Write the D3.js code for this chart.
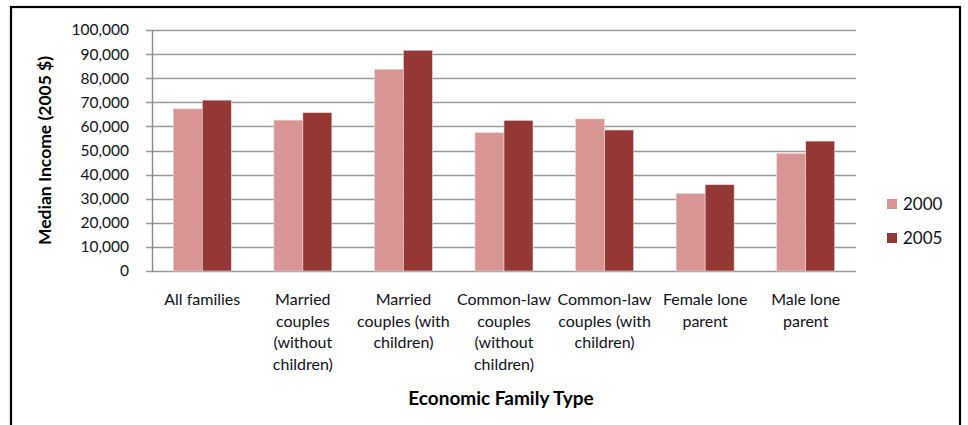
<!DOCTYPE html>
<html lang="en">

<head>
    <meta charset="utf-8">
    <title>Median Income by Economic Family Type</title>
    <style type="text/css">
        body {
            margin: 0;
            background: #fff;
        }

        text {
            font-family: 'Lato', 'Open Sans', sans-serif;
        }
    </style>
    <script type="text/javascript" src="https://cdn.jsdelivr.net/npm/d3@7"></script>
</head>

<body>
    <script type="text/javascript">
        var svgW = 968;
        var svgH = 425;

        /* DATA */

        var categories = ["All families", "Married couples (without children)", "Married couples (with children)",
            "Common-law couples (without children)", "Common-law couples (with children)",
            "Female lone parent", "Male lone parent"];
        var categoryLines = [
            ["All families"],
            ["Married", "couples", "(without", "children)"],
            ["Married", "couples (with", "children)"],
            ["Common-law", "couples", "(without", "children)"],
            ["Common-law", "couples (with", "children)"],
            ["Female lone", "parent"],
            ["Male lone", "parent"]
        ];
        var years = ["2000", "2005"];
        var values2000 = [67300, 62600, 83700, 57400, 63100, 32200, 48800];
        var values2005 = [70900, 65700, 91600, 62500, 58500, 35800, 53900];
        var yTicks = [0, 10000, 20000, 30000, 40000, 50000, 60000, 70000, 80000, 90000, 100000];

        var colors = { "2000": "#d99594", "2005": "#953735" };
        var series = { "2000": values2000, "2005": values2005 };

        var svg = d3.select("body").append("svg")
            .attr("width", svgW)
            .attr("height", svgH);

        // outer frame (bottom edge falls outside the picture)
        svg.append("rect")
            .attr("x", 11)
            .attr("y", 7)
            .attr("width", 949)
            .attr("height", 430)
            .attr("fill", "white")
            .attr("stroke", "black")
            .attr("stroke-width", 2.2);

        var plotL = 152, plotR = 856, plotT = 30, plotB = 271;

        var x = d3.scaleBand()
            .domain(categories)
            .range([plotL, plotR])
            .padding(0);

        var xInner = d3.scaleBand()
            .domain(years)
            .range([0, x.bandwidth()])
            .paddingInner(0)
            .paddingOuter(0.734);

        var y = d3.scaleLinear()
            .domain([0, 100000])
            .range([plotB, plotT]);

        /* GRID + Y AXIS */

        svg.append("g")
            .selectAll("line")
            .data(yTicks)
            .enter().append("line")
            .attr("x1", plotL - 6)
            .attr("x2", plotR)
            .attr("y1", function (d) { return Math.round(y(d)) + 0.5; })
            .attr("y2", function (d) { return Math.round(y(d)) + 0.5; })
            .attr("stroke", "#9a9a9a")
            .attr("stroke-width", 1.4);

        svg.append("line")
            .attr("x1", plotL + 0.5)
            .attr("x2", plotL + 0.5)
            .attr("y1", plotT)
            .attr("y2", plotB + 1)
            .attr("stroke", "#8a8a8a")
            .attr("stroke-width", 1.4);

        var fmt = d3.format(",");

        svg.append("g")
            .selectAll("text")
            .data(yTicks)
            .enter().append("text")
            .attr("x", plotL - 23)
            .attr("y", function (d) { return y(d); })
            .attr("dy", "0.35em")
            .attr("text-anchor", "end")
            .attr("font-size", 15.5)
            .attr("fill", "#111122")
            .text(function (d) { return fmt(d); });

        /* BARS */

        var groups = svg.append("g")
            .selectAll("g")
            .data(categories)
            .enter().append("g")
            .attr("transform", function (d) { return "translate(" + x(d) + ",0)"; });

        groups.selectAll("rect")
            .data(function (d, i) {
                return years.map(function (yr) { return { year: yr, value: series[yr][i] }; });
            })
            .enter().append("rect")
            .attr("x", function (d) { return xInner(d.year); })
            .attr("width", xInner.bandwidth())
            .attr("y", function (d) { return y(d.value); })
            .attr("height", function (d) { return plotB - y(d.value); })
            .attr("fill", function (d) { return colors[d.year]; })
            .attr("stroke", "#f0d8d8")
            .attr("stroke-width", 0.6);

        /* X LABELS */

        var xl = svg.append("g")
            .selectAll("text")
            .data(categories)
            .enter().append("text")
            .attr("text-anchor", "middle")
            .attr("font-size", 16)
            .attr("fill", "#111122")
            .attr("x", function (d) { return x(d) + x.bandwidth() / 2; })
            .attr("y", 305);

        xl.selectAll("tspan")
            .data(function (d, i) { return categoryLines[i]; })
            .enter().append("tspan")
            .attr("x", function () { return d3.select(this.parentNode).attr("x"); })
            .attr("dy", function (d, i) { return i === 0 ? 0 : 21.5; })
            .text(function (d) { return d; });

        /* AXIS TITLES */

        svg.append("text")
            .attr("transform", "translate(51," + ((plotT + plotB) / 2) + ") rotate(-90)")
            .attr("text-anchor", "middle")
            .attr("font-size", 17.5)
            .attr("font-weight", "bold")
            .attr("fill", "black")
            .text("Median Income (2005 $)");

        svg.append("text")
            .attr("x", 501)
            .attr("y", 405)
            .attr("text-anchor", "middle")
            .attr("font-size", 19)
            .attr("font-weight", "bold")
            .attr("fill", "black")
            .text("Economic Family Type");

        /* LEGEND */

        var leg = svg.append("g")
            .selectAll("g")
            .data(years)
            .enter().append("g")
            .attr("transform", function (d, i) { return "translate(887," + (199 + i * 34) + ")"; });

        leg.append("rect")
            .attr("width", 10)
            .attr("height", 10)
            .attr("fill", function (d) { return colors[d]; });

        leg.append("text")
            .attr("x", 16)
            .attr("y", 5)
            .attr("dy", "0.36em")
            .attr("font-size", 17)
            .attr("fill", "#111122")
            .text(function (d) { return d; });
    </script>
</body>

</html>
